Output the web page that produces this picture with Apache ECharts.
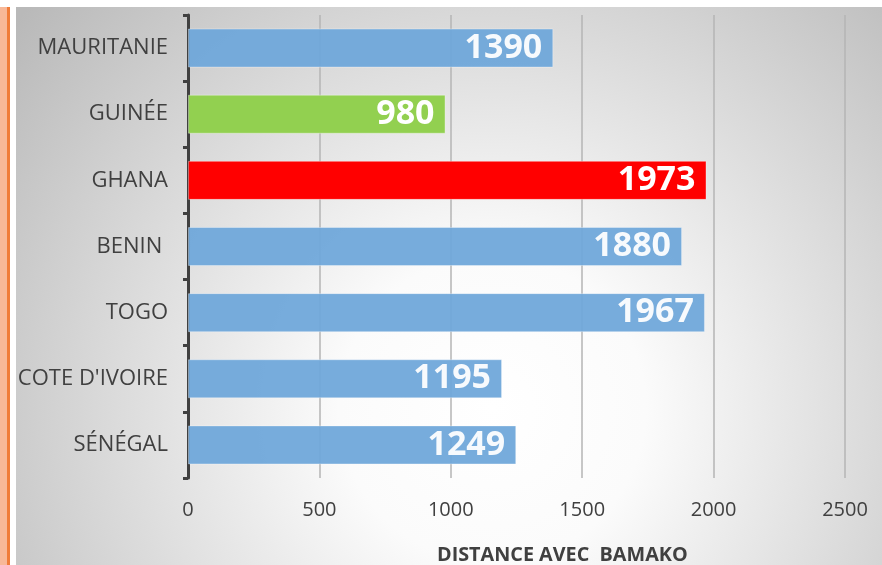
<!DOCTYPE html>
<html><head><meta charset="utf-8">
<script src="https://cdn.jsdelivr.net/npm/echarts@6/dist/echarts.min.js"></script>
<style>html,body{margin:0;padding:0;background:#fff}#c{width:882px;height:565px}</style>
</head><body><div id="c"></div>
<script>
const categories = ["MAURITANIE", "GUINÉE", "GHANA", "BENIN ", "TOGO", "COTE D'IVOIRE", "SÉNÉGAL"];
const distances = [1390, 980, 1973, 1880, 1967, 1195, 1249];
const barColors = ["#6fa7da", "#92d050", "#ff0000", "#6fa7da", "#6fa7da", "#6fa7da", "#6fa7da"];
const xTicks = [0, 500, 1000, 1500, 2000, 2500];
const axisTitle = "DISTANCE AVEC  BAMAKO";

const chart = echarts.init(document.getElementById('c'), null, {renderer: 'canvas'});
const cats = categories.slice().reverse();
const vals = distances.slice().reverse();
const cols = barColors.slice().reverse();

chart.setOption({
  animation: false,
  graphic: [
    {type: 'rect', z: -100, silent: true, shape: {x: 16, y: 7, width: 866, height: 558},
     style: {fill: new echarts.graphic.RadialGradient(0.55, 0.72, 1.1, [
       {offset: 0, color: '#ffffff'}, {offset: 0.25, color: '#fbfbfb'}, {offset: 1, color: '#b9b9b9'}])}},
    {type: 'rect', z: -100, silent: true, shape: {x: 0, y: 7, width: 7, height: 558},
     style: {fill: '#f8b898'}},
    {type: 'rect', z: -100, silent: true, shape: {x: 7, y: 7, width: 3, height: 558},
     style: {fill: '#f07c3a'}}
  ],
  title: {
    text: axisTitle, left: 432, top: 540,
    textStyle: {fontFamily: 'Open Sans', fontWeight: 'bold', fontSize: 19.8, color: '#404040'}
  },
  grid: {left: 188, right: 37, top: 15, bottom: 87, containLabel: false},
  xAxis: {
    type: 'value', min: 0, max: 2500, interval: 500,
    axisLine: {show: false}, axisTick: {show: false},
    axisLabel: {margin: 22, fontFamily: 'Open Sans', fontSize: 20, color: '#404040',
      formatter: v => xTicks.includes(v) ? String(v) : ''},
    splitLine: {show: true, lineStyle: {color: '#b4b4b4', width: 1.5}}
  },
  yAxis: {
    type: 'category', data: cats,
    axisLine: {show: true, lineStyle: {color: '#404040', width: 3}},
    axisTick: {show: true, length: 5, inside: false, lineStyle: {color: '#404040', width: 3}},
    axisLabel: {margin: 20, fontFamily: 'Open Sans', fontSize: 22, color: '#404040'},
    splitLine: {show: false}
  },
  series: [{
    type: 'bar',
    data: vals.map((v, i) => ({value: v, itemStyle: {color: cols[i], opacity: cols[i] === '#6fa7da' ? 0.94 : 1}})),
    barCategoryGap: '41%',
    itemStyle: {borderColor: 'rgba(255,255,255,0.35)', borderWidth: 1},
    label: {show: true, position: 'insideRight', distance: 11, color: '#ffffff',
      fontFamily: 'Open Sans', fontWeight: 'bold', fontSize: 34}
  }]
});
</script></body></html>
